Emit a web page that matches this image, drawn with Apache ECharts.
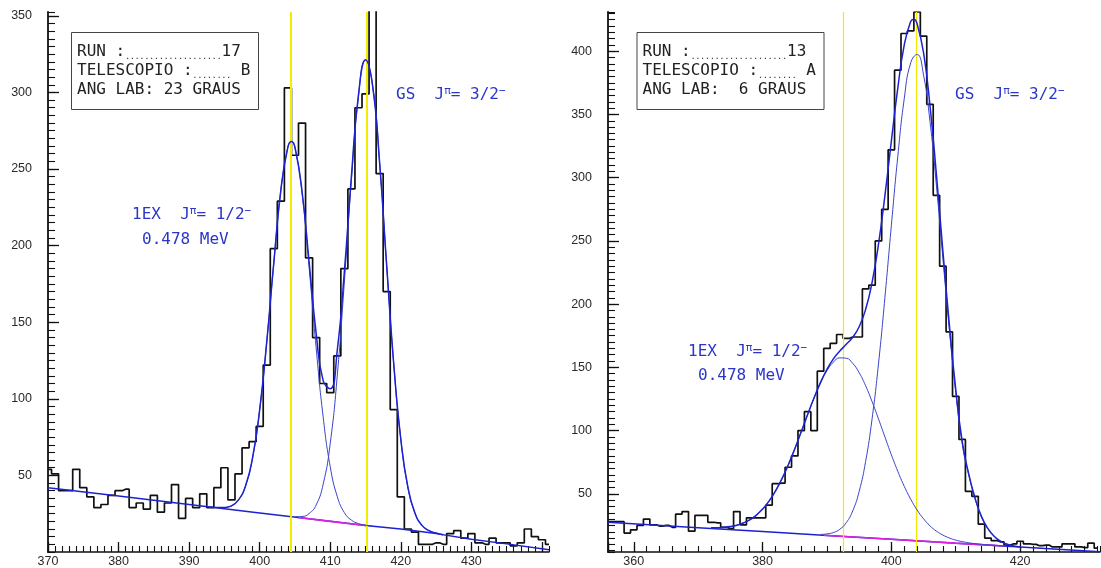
<!DOCTYPE html>
<html>
<head>
<meta charset="utf-8">
<title>Espectros RUN 17 / RUN 13</title>
<script src="https://cdn.jsdelivr.net/npm/echarts@6/dist/echarts.min.js"></script>
<style>
  html, body { margin: 0; padding: 0; background: #fff; }
  #main { width: 1101px; height: 568px; }
</style>
</head>
<body>
<div id="main"></div>
<script>
// ---- left spectrum: RUN 17, telescope B, 23 deg ----
const leftStart = 370;
const leftCounts = [54, 51, 40, 40, 54, 42, 36, 29, 31, 37,
  40, 41, 29, 32, 28, 37, 26, 32, 44, 22,
  35, 29, 38, 29, 42, 55, 34, 51, 68, 72,
  82, 122, 198, 229, 303, 259, 280, 192, 140, 110,
  104, 128, 185, 237, 290, 299, 370, 247, 170, 93,
  36, 15, 13, 5, 5, 6, 5, 12, 14, 9,
  12, 6, 5, 9, 6, 6, 4, 6, 15, 10,
  8, 5];
const leftBgX = [370, 380, 390, 400, 410, 415, 420, 425, 430, 435, 441];
const leftBgY = [42, 36.5, 31, 25.5, 20, 17.3, 15, 12, 8.3, 5.3, 1.5];
const leftMagX = [405.5, 410, 415.3];
const leftMagY = [22.5, 20, 17.1];
const leftTotalStart = 393;
const leftTotal = [29.4, 29.0, 29.1, 30.1, 34.0, 43.2, 61.7, 92.9, 137.2, 188.8,
  236.2, 264.4, 264.2, 235.5, 189.5, 142.9, 111.7, 106.6, 132, 183,
  245.4, 298.4, 321.3, 304.5, 253.8, 186.7, 122.6, 73.6, 42.3, 25.4,
  17.4, 13.9, 12.4, 11.3];
const leftTotalPeak = [[404.5, 268]];
const leftG1Start = 395;
const leftG1 = [29.0, 30.1, 34.0, 43.2, 61.7, 92.9, 137.2, 188.8, 236.2, 264.4,
  263.9, 234.5, 186.1, 133.3, 88.0, 55.6, 36.1, 25.7, 20.8, 18.6, 17.5, 16.9];
const leftG1Peak = [[404.5, 268]];
const leftG2Start = 405;
const leftG2 = [23.1, 23.2, 25.1, 30.7, 44.3, 71.0, 115.5, 176.2, 243.0, 297.6,
  321.1, 304.5, 253.8, 186.7, 122.6, 73.6, 42.3, 25.4, 17.4, 13.9, 12.4];
const leftMarkers = [404.4, 415.2];
const leftTickLabels = [370, 380, 390, 400, 410, 420, 430];

// ---- right spectrum: RUN 13, telescope A, 6 deg ----
const rightStart = 356;
const rightCounts = [28, 28, 28, 19, 21.5, 25, 30, 25.5, 24.5, 25,
  23.5, 34, 36, 20.5, 33, 33, 27.5, 27, 23.5, 22.5,
  36, 25.5, 31, 31, 31, 41, 58, 58.5, 71, 80,
  100, 115, 100, 147, 165, 169, 176, 173, 174, 174,
  212, 215, 250, 275, 322, 385, 414, 416, 431, 412,
  358, 286, 230, 178, 127, 93, 52, 48, 26, 15,
  13, 12, 9.5, 10.5, 12.5, 10.5, 10, 9, 9.5, 8,
  8, 10.5, 10.5, 8, 7.5, 11, 7];
const rightBgX = [356, 370, 380, 390, 400, 410, 420, 432.4];
const rightBgY = [27.5, 23.2, 20.2, 17.1, 14.1, 11, 8, 4.2];
const rightMagX = [389.5, 400, 410, 417.5];
const rightMagY = [17.3, 14.1, 11, 8.7];
const rightTotalStart = 372;
const rightTotal = [23.1, 23.2, 23.5, 24.1, 25.2, 26.9, 29.4, 33.0, 37.9, 44.2,
  52.2, 61.8, 73.0, 85.5, 99.0, 112.7, 125.9, 138.1, 148.5, 156.7,
  163.0, 168.2, 173.8, 182.1, 195.7, 217.0, 247.3, 285.8, 328.9, 370.8,
  404.8, 423.4, 421.7, 398.8, 357.0, 302.3, 242.2, 184.0, 132.6, 91.5,
  66.0, 46.5, 32.0, 22.5, 16.2, 12.4, 10.1, 8.8, 8.0];
const rightTotalPeak = [[403.5, 425.2]];
const rightG1Start = 372;
const rightG1 = [23.1, 23.2, 23.5, 24.1, 25.2, 26.9, 29.4, 33.0, 37.9, 44.2,
  52.2, 61.8, 73.0, 85.5, 99.0, 112.7, 125.7, 137.6, 147.3, 154.1,
  157.5, 157.2, 153.2, 145.8, 135.5, 123.0, 109.3, 95.0, 80.9, 67.8,
  56.0, 45.8, 37.2, 30.3, 24.7, 20.5, 17.4, 15.1, 13.4, 12.2,
  11.3, 10.6, 10.1, 9.6, 9.3, 8.9, 8.6];
const rightG2Start = 389;
const rightG2 = [17.9, 18.3, 19.4, 22.0, 27.2, 36.5, 51.9, 75.5, 109.0, 152.7,
  205.2, 262.1, 316.8, 362.3, 390.8, 397.4, 381.1, 344.4, 293.7, 236.4,
  180.2, 130.2, 89.9, 65.4, 46.1, 31.8, 22.5, 16.2, 12.4, 10.1, 8.8];
const rightMarkers = [392.6, 403.8];
const rightTickLabels = [360, 380, 400, 420];

const boxLines = [
  ['RUN :', '....................', '17', 'TELESCOPIO :', '........', ' B', 'ANG LAB: 23 GRAUS'],
  ['RUN :', '....................', '13', 'TELESCOPIO :', '........', ' A', 'ANG LAB:  6 GRAUS']
];

const AXIS_FONT = 'Liberation Sans';
const MONO = 'DejaVu Sans Mono';
const BLUE = '#1d22d0';
const BLUE_THIN = '#3a44c8';
const TEXT_BLUE = '#2b36c9';

const chart = echarts.init(document.getElementById('main'));

// pairs from a run of unit-spaced samples, plus any extra read points, sorted by x
function seq(start, ys, extra) {
  const pts = ys.map((y, i) => [start + i, y]).concat(extra || []);
  return pts.sort((a, b) => a[0] - b[0]);
}
function zip(xs, ys) {
  return xs.map((x, i) => [x, ys[i]]);
}

function xMajor(grid, min, max, step, shown) {
  return {
    gridIndex: grid, type: 'value', position: 'bottom', min, max,
    minInterval: step, maxInterval: step, splitNumber: Math.round((max - min) / step),
    axisLine: { show: true, lineStyle: { color: '#111', width: 1.6 } },
    axisTick: { show: true, inside: true, length: 10, lineStyle: { color: '#111', width: 1.3 } },
    axisLabel: { show: true, margin: 3, fontSize: 12.5, color: '#2a2a2a', fontFamily: AXIS_FONT,
      showMinLabel: true, showMaxLabel: false,
      formatter: v => shown.indexOf(v) >= 0 ? String(v) : '' },
    splitLine: { show: false }
  };
}
function xMinor(grid, min, max, step) {
  return {
    gridIndex: grid, type: 'value', position: 'bottom', min, max,
    minInterval: step, maxInterval: step, splitNumber: Math.round((max - min) / step),
    axisLine: { show: false },
    axisTick: { show: true, inside: true, length: 6, lineStyle: { color: '#111', width: 1.1 } },
    axisLabel: { show: false },
    splitLine: { show: false }
  };
}
function yMajor(grid, min, max, step) {
  return {
    gridIndex: grid, type: 'value', position: 'left', min, max,
    minInterval: step, maxInterval: step, splitNumber: Math.round((max - min) / step),
    axisLine: { show: true, lineStyle: { color: '#111', width: 1.8 } },
    axisTick: { show: true, inside: true, length: 11, lineStyle: { color: '#111', width: 1.3 } },
    axisLabel: { show: true, margin: 16, fontSize: 12.5, color: '#2a2a2a', fontFamily: AXIS_FONT,
      showMinLabel: false, showMaxLabel: false },
    splitLine: { show: false }
  };
}
function yMinor(grid, min, max, step) {
  return {
    gridIndex: grid, type: 'value', position: 'left', min, max,
    minInterval: step, maxInterval: step, splitNumber: Math.round((max - min) / step),
    axisLine: { show: false },
    axisTick: { show: true, inside: true, length: 7, lineStyle: { color: '#111', width: 1.1 } },
    axisLabel: { show: false },
    splitLine: { show: false }
  };
}

function line(grid, data, color, width, opts) {
  return Object.assign({
    type: 'line', xAxisIndex: grid * 2, yAxisIndex: grid * 2, data,
    symbol: 'none', silent: true, lineStyle: { color, width }, clip: true
  }, opts || {});
}

function markers(grid, values, width) {
  return {
    type: 'line', xAxisIndex: grid * 2, yAxisIndex: grid * 2, data: [], silent: true, z: 1,
    markLine: {
      symbol: 'none', silent: true, animation: false, label: { show: false },
      lineStyle: { color: '#f2ec00', width, type: 'solid' },
      data: values.map(v => ({ xAxis: v }))
    }
  };
}

function panelSeries(grid, p) {
  return [
    markers(grid, p.markers, p.markerWidth),
    line(grid, seq(p.start, p.counts), '#111', 1.7, { step: 'middle', z: 2 }),
    line(grid, zip(p.bgX, p.bgY), BLUE, 1.5, { z: 3 }),
    line(grid, zip(p.magX, p.magY), '#e11fe1', 1.6, { z: 4 }),
    line(grid, seq(p.g1Start, p.g1, p.g1Peak), BLUE_THIN, 1, { smooth: true, z: 5 }),
    line(grid, seq(p.g2Start, p.g2), BLUE_THIN, 1, { smooth: true, z: 5 }),
    line(grid, seq(p.totalStart, p.total, p.totalPeak), BLUE, 1.5, { smooth: true, z: 6 })
  ];
}

function infoBox(x, y, lines) {
  const txt = '{t|' + lines[0] + '}{d|' + lines[1] + '}{t|' + lines[2] + '}\n' +
    '{t|' + lines[3] + '}{d|' + lines[4] + '}{t|' + lines[5] + '}\n' +
    '{t|' + lines[6] + '}';
  return [
    { type: 'rect', shape: { x: x, y: y, width: 187, height: 77 }, z: 10,
      style: { fill: '#fff', stroke: '#444', lineWidth: 1 } },
    { type: 'text', x: x + 5.5, y: y + 9.5, z: 11,
      style: {
        text: txt,
        rich: {
          t: { fontFamily: MONO, fontSize: 16, lineHeight: 19, fill: '#222' },
          d: { fontFamily: MONO, fontSize: 8, lineHeight: 12, verticalAlign: 'bottom', fill: '#222' }
        }
      } }
  ];
}

function spinLabel(x, y, name, spin) {
  return { type: 'text', x, y, z: 11,
    style: {
      text: '{n|' + name + '  J}{s|π}{n|= ' + spin + '}{s|−}',
      verticalAlign: 'middle',
      rich: {
        n: { fontFamily: MONO, fontSize: 16, lineHeight: 18, fill: TEXT_BLUE },
        s: { fontFamily: MONO, fontSize: 11, lineHeight: 11, verticalAlign: 'top', fill: TEXT_BLUE }
      }
    } };
}
function plainLabel(x, y, text) {
  return { type: 'text', x, y, z: 11,
    style: { text, verticalAlign: 'middle', fontFamily: MONO, fontSize: 16, fill: TEXT_BLUE } };
}

const option = {
  animation: false,
  backgroundColor: '#fff',
  grid: [
    { left: 48, top: 12, width: 501, height: 543 },
    { left: 608, top: 12, width: 492, height: 543 }
  ],
  xAxis: [
    xMajor(0, 370, 441, 10, leftTickLabels), xMinor(0, 370, 441, 1),
    xMajor(1, 356, 432.4, 20, rightTickLabels), xMinor(1, 356, 432.4, 2)
  ],
  yAxis: [
    yMajor(0, 0, 352.5, 50), yMinor(0, 0, 352.5, 5),
    yMajor(1, 4, 431, 50), yMinor(1, 4, 431, 5)
  ],
  series: [].concat(
    panelSeries(0, {
      markers: leftMarkers, markerWidth: 2, start: leftStart, counts: leftCounts,
      bgX: leftBgX, bgY: leftBgY, magX: leftMagX, magY: leftMagY,
      g1Start: leftG1Start, g1: leftG1, g1Peak: leftG1Peak,
      g2Start: leftG2Start, g2: leftG2,
      totalStart: leftTotalStart, total: leftTotal, totalPeak: leftTotalPeak
    }),
    panelSeries(1, {
      markers: rightMarkers, markerWidth: 1.2, start: rightStart, counts: rightCounts,
      bgX: rightBgX, bgY: rightBgY, magX: rightMagX, magY: rightMagY,
      g1Start: rightG1Start, g1: rightG1, g1Peak: [],
      g2Start: rightG2Start, g2: rightG2,
      totalStart: rightTotalStart, total: rightTotal, totalPeak: rightTotalPeak
    })
  ),
  graphic: [].concat(
    infoBox(71.5, 32.5, boxLines[0]),
    infoBox(637, 32.5, boxLines[1]),
    [
      spinLabel(396, 95, 'GS', '3/2'),
      spinLabel(132, 215, '1EX', '1/2'),
      plainLabel(142, 240, '0.478 MeV'),
      spinLabel(955, 95, 'GS', '3/2'),
      spinLabel(688, 352, '1EX', '1/2'),
      plainLabel(698, 376, '0.478 MeV')
    ]
  )
};

chart.setOption(option);
</script>
</body>
</html>
